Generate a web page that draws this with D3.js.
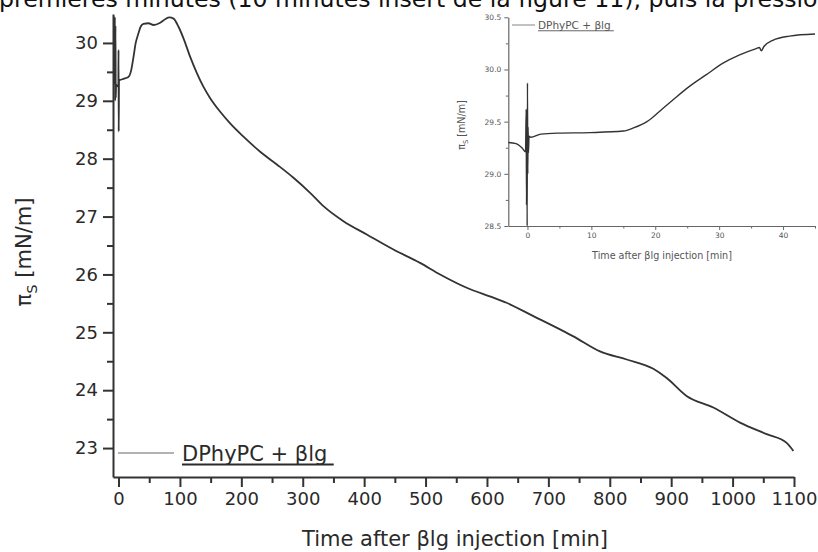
<!DOCTYPE html>
<html>
<head>
<meta charset="utf-8">
<script src="https://cdn.jsdelivr.net/npm/d3@7"></script>
<style>
  body { margin: 0; background: #fff; }
  svg { display: block; }
  text { font-family: "DejaVu Sans", sans-serif; }
</style>
</head>
<body>
<div id="chart"></div>
<script>
// main curve: time after injection [min] and surface pressure [mN/m]
const mainTime = [-8, -6.5, -6, -5.5, -5, -4.5, -4, -3, -2, -1, -0.3, 0, 0.3, 0.8, 2, 8, 16, 20, 24.4, 28, 32.6, 36, 40.7, 48.8, 57, 67.9, 76, 83, 89.6, 97.7, 105.8, 116.7, 127.6, 138.4, 149, 165.6, 181.8, 203.5, 230.7, 257.8, 284.9, 312, 333.7, 366.3, 404.3, 447.7, 491, 523.7, 567, 610.4, 632, 675.6, 719, 740.7, 784, 827.6, 870.9, 892.7, 925, 968.6, 1012, 1055.5, 1088, 1099]
const mainPressure = [29.30, 29.30, 30.45, 29.00, 30.30, 29.05, 29.28, 29.27, 29.26, 29.25, 29.24, 29.88, 28.47, 29.36, 29.36, 29.38, 29.41, 29.50, 29.76, 30.00, 30.17, 30.28, 30.33, 30.34, 30.31, 30.35, 30.41, 30.44, 30.42, 30.28, 30.08, 29.76, 29.48, 29.24, 29.05, 28.81, 28.61, 28.38, 28.12, 27.90, 27.67, 27.41, 27.18, 26.92, 26.69, 26.43, 26.20, 26.00, 25.77, 25.60, 25.51, 25.28, 25.05, 24.93, 24.67, 24.53, 24.37, 24.21, 23.90, 23.70, 23.44, 23.24, 23.09, 22.95]

// inset: first 45 minutes
const insetTime = [-3, -1.8, -0.8, -0.3, -0.2, -0.15, -0.1, -0.05, 0, 0.05, 0.1, 0.15, 0.25, 0.5, 2.1, 4.7, 9.8, 15, 16.6, 18.7, 20.7, 22.8, 25.4, 28, 30.6, 33.2, 35.8, 36.3, 36.6, 37.0, 38.4, 41, 45]
const insetPressure = [29.30, 29.29, 29.245, 29.21, 29.62, 28.7, 29.4, 28.5, 29.87, 29.0, 29.45, 29.2, 29.36, 29.35, 29.38, 29.39, 29.395, 29.41, 29.44, 29.50, 29.60, 29.71, 29.84, 29.95, 30.06, 30.14, 30.20, 30.21, 30.18, 30.22, 30.28, 30.32, 30.34]

const mainXTicks = d3.range(0, 1101, 100)
const mainXMinor = d3.range(50, 1100, 100)
const mainYTicks = [23, 24, 25, 26, 27, 28, 29, 30]
const mainYMinor = [23.5, 24.5, 25.5, 26.5, 27.5, 28.5, 29.5]
const insetXTicks = [0, 10, 20, 30, 40]
const insetXMinor = [5, 15, 25, 35, 45]
const insetYTicks = [28.5, 29.0, 29.5, 30.0, 30.5]
const insetYMinor = [28.75, 29.25, 29.75, 30.25]

const seriesName = "DPhyPC + βlg"
const xTitle = "Time after βlg injection [min]"
const pageText = "premières minutes (10 minutes insert de la figure 11), puis la pressio"

const width = 818, height = 552

const svg = d3.select("#chart")
    .append("svg")
    .attr("width", width)
    .attr("height", height)

// text of the page the figure was cut from (cut at the top like the scan)
svg.append("text")
    .attr("x", -1)
    .attr("y", 7)
    .attr("font-size", 23.6)
    .attr("fill", "#111")
    .text(pageText)

function drawPanel(g, opt) {
    const x = d3.scaleLinear().domain(opt.xDomain).range(opt.xRange)
    const y = d3.scaleLinear().domain(opt.yDomain).range(opt.yRange)

    // minor ticks first, then major ones with labels
    g.append("g")
        .attr("transform", "translate(0," + opt.yRange[0] + ")")
        .call(d3.axisBottom(x).tickValues(opt.xMinor).tickSize(opt.minorLen).tickFormat(""))
        .call(a => a.select(".domain").remove())
    g.append("g")
        .attr("transform", "translate(" + opt.xRange[0] + ",0)")
        .call(d3.axisLeft(y).tickValues(opt.yMinor).tickSize(opt.minorLen).tickFormat(""))
        .call(a => a.select(".domain").remove())

    g.append("g")
        .attr("transform", "translate(0," + opt.yRange[0] + ")")
        .call(d3.axisBottom(x).tickValues(opt.xTicks).tickSize(opt.majorLen)
            .tickSizeOuter(0).tickPadding(opt.pad).tickFormat(opt.xFormat))
    g.append("g")
        .attr("transform", "translate(" + opt.xRange[0] + ",0)")
        .call(d3.axisLeft(y).tickValues(opt.yTicks).tickSize(opt.majorLen)
            .tickSizeOuter(0).tickPadding(opt.pad).tickFormat(opt.yFormat))

    g.selectAll(".tick line").attr("stroke", opt.axisColor).attr("stroke-width", opt.tickWidth)
    g.selectAll(".domain").attr("stroke", opt.axisColor).attr("stroke-width", opt.axisWidth)
    g.selectAll(".tick text")
        .attr("font-family", "DejaVu Sans, sans-serif")
        .attr("font-size", opt.tickFont)
        .attr("fill", opt.textColor)

    const line = d3.line()
        .x((d, i) => x(opt.time[i]))
        .y(d => y(d))
        .curve(d3.curveMonotoneX)

    g.append("path")
        .datum(opt.values)
        .attr("fill", "none")
        .attr("stroke", opt.lineColor)
        .attr("stroke-width", opt.lineWidth)
        .attr("d", line)

    // axis titles
    g.append("text")
        .attr("x", opt.xTitlePos[0])
        .attr("y", opt.xTitlePos[1])
        .attr("text-anchor", "middle")
        .attr("font-size", opt.titleFont)
        .attr("fill", opt.textColor)
        .text(xTitle)

    const yt = g.append("text")
        .attr("transform", "translate(" + opt.yTitlePos[0] + "," + opt.yTitlePos[1] + ") rotate(-90)")
        .attr("text-anchor", "middle")
        .attr("font-size", opt.titleFont)
        .attr("fill", opt.textColor)
    yt.append("tspan").text("π")
    yt.append("tspan").attr("font-size", opt.titleFont * 0.7).attr("dy", opt.titleFont * 0.3).text("S")
    yt.append("tspan").attr("dy", -opt.titleFont * 0.3).text(" [mN/m]")

    // legend
    const lg = opt.legend
    g.append("line")
        .attr("x1", lg.x).attr("x2", lg.x + lg.len)
        .attr("y1", lg.y).attr("y2", lg.y)
        .attr("stroke", "#666").attr("stroke-width", lg.lw)
    const lt = g.append("text")
        .attr("x", lg.x + lg.len + lg.gap)
        .attr("y", lg.y + lg.font * 0.38)
        .attr("font-size", lg.font)
        .attr("fill", opt.textColor)
        .text(seriesName)
    const w = lt.node().getComputedTextLength()
    g.append("line")
        .attr("x1", lg.x + lg.len + lg.gap).attr("x2", lg.x + lg.len + lg.gap + w + lg.font * 0.3)
        .attr("y1", lg.y + lg.font * 0.55).attr("y2", lg.y + lg.font * 0.55)
        .attr("stroke", opt.textColor).attr("stroke-width", lg.ulw)
}

drawPanel(svg.append("g"), {
    time: mainTime, values: mainPressure,
    xDomain: [-9, 1100], xRange: [113, 794],
    yDomain: [22.5, 30.5], yRange: [477, 14],
    xTicks: mainXTicks, xMinor: mainXMinor,
    yTicks: mainYTicks, yMinor: mainYMinor,
    xFormat: d3.format("d"), yFormat: d3.format("d"),
    majorLen: 10, minorLen: 6, pad: 5,
    axisColor: "#333", axisWidth: 2, tickWidth: 2,
    tickFont: 18, titleFont: 21, textColor: "#2a2a2a",
    lineColor: "#333", lineWidth: 1.8,
    xTitlePos: [455, 546], yTitlePos: [31, 252],
    legend: {x: 118, y: 453, len: 56, gap: 8, font: 21, lw: 1.2, ulw: 2}
})

drawPanel(svg.append("g"), {
    time: insetTime, values: insetPressure,
    xDomain: [-3, 45], xRange: [508.3, 815],
    yDomain: [28.5, 30.5], yRange: [226, 17.3],
    xTicks: insetXTicks, xMinor: insetXMinor,
    yTicks: insetYTicks, yMinor: insetYMinor,
    xFormat: d3.format("d"), yFormat: d3.format(".1f"),
    majorLen: 4, minorLen: 2.5, pad: 3,
    axisColor: "#666", axisWidth: 1.2, tickWidth: 1,
    tickFont: 7.5, titleFont: 9.6, textColor: "#555",
    lineColor: "#333", lineWidth: 1.4,
    xTitlePos: [662, 259], yTitlePos: [465, 125],
    legend: {x: 512, y: 25, len: 23, gap: 3, font: 10.5, lw: 0.8, ulw: 0.9}
})
</script>
</body>
</html>
